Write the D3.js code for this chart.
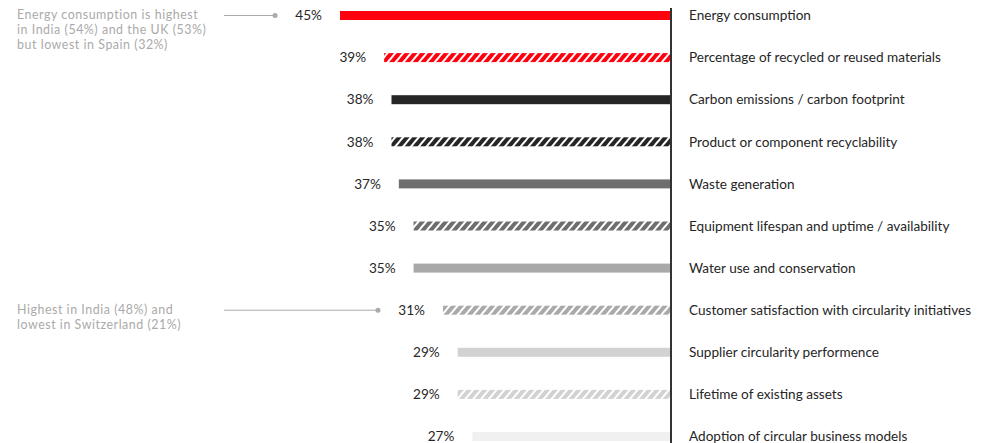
<!DOCTYPE html>
<html>
<head>
<meta charset="utf-8">
<script src="https://cdn.jsdelivr.net/npm/d3@7"></script>
<style>
  html, body { margin: 0; padding: 0; background: #fff; }
  svg text { font-family: Lato, "Noto Sans", sans-serif; }
</style>
</head>
<body>
<svg id="chart" width="994" height="443"></svg>
<script>
// Circularity metrics tracked, share of respondents (%)
const categories = [
  "Energy consumption",
  "Percentage of recycled or reused materials",
  "Carbon emissions / carbon footprint",
  "Product or component recyclability",
  "Waste generation",
  "Equipment lifespan and uptime / availability",
  "Water use and conservation",
  "Customer satisfaction with circularity initiatives",
  "Supplier circularity performence",
  "Lifetime of existing assets",
  "Adoption of circular business models"
];
const values = [45, 39, 38, 38, 37, 35, 35, 31, 29, 29, 27];
const colors = ["#ff000f", "#ff000f", "#262626", "#262626", "#6e6e6e", "#6e6e6e",
                "#a9a9a9", "#a9a9a9", "#d2d2d2", "#d2d2d2", "#f0f0f0"];
const hatched = [false, true, false, true, false, true, false, true, false, true, false];

// Callout notes attached to specific rows
const notes = [
  { row: 0, lines: ["Energy consumption is highest", "in India (54%) and the UK (53%)", "but lowest in Spain (32%)"] },
  { row: 7, lines: ["Highest in India (48%) and", "lowest in Switzerland (21%)"] }
];

const svg = d3.select("#chart");
const axisX = 671;
const fontSize = 13.6;

// Bars grow leftwards from the axis
const x = d3.scaleLinear().domain([0, 45]).range([axisX, 340]);
const y = d3.scalePoint().domain(d3.range(categories.length)).range([15.5, 436.5]);
const barH = 9;

// Diagonal stripe patterns for the hatched bars
const defs = svg.append("defs");
colors.forEach((c, i) => {
  if (!hatched[i]) return;
  const p = defs.append("pattern")
    .attr("id", "hatch" + i)
    .attr("patternUnits", "userSpaceOnUse")
    .attr("width", 6).attr("height", 6)
    .attr("patternTransform", "rotate(40)");
  p.append("rect").attr("width", 6).attr("height", 6).attr("fill", c);
  p.append("rect").attr("x", 0).attr("width", 2).attr("height", 6).attr("fill", "#fff");
});

const rows = svg.append("g").selectAll("g")
  .data(values.map((v, i) => ({ v, i })))
  .join("g");

rows.append("rect")
  .attr("x", d => x(d.v))
  .attr("y", d => y(d.i) - barH / 2)
  .attr("width", d => axisX - x(d.v))
  .attr("height", barH)
  .attr("fill", d => hatched[d.i] ? `url(#hatch${d.i})` : colors[d.i]);

rows.append("text")
  .attr("x", d => x(d.v) - 18)
  .attr("y", d => y(d.i))
  .attr("dy", "0.35em")
  .attr("text-anchor", "end")
  .attr("font-size", fontSize)
  .attr("fill", "#262626")
  .text(d => d.v + "%");

rows.append("text")
  .attr("x", axisX + 18)
  .attr("y", d => y(d.i))
  .attr("dy", "0.35em")
  .attr("font-size", fontSize)
  .attr("fill", "#262626")
  .text(d => categories[d.i]);

// Baseline axis
svg.append("line")
  .attr("x1", axisX).attr("x2", axisX)
  .attr("y1", 8).attr("y2", 443)
  .attr("stroke", "#333").attr("stroke-width", 2);

// Callouts
const noteG = svg.append("g").selectAll("g").data(notes).join("g");
noteG.append("line")
  .attr("x1", 224)
  .attr("x2", d => x(values[d.row]) - 65)
  .attr("y1", d => y(d.row)).attr("y2", d => y(d.row))
  .attr("stroke", "#aaa").attr("stroke-width", 1);
noteG.append("circle")
  .attr("cx", d => x(values[d.row]) - 65)
  .attr("cy", d => y(d.row))
  .attr("r", 2.5)
  .attr("fill", "#aaa");
noteG.append("text")
  .attr("x", 17)
  .attr("y", d => y(d.row) + 3.5)
  .attr("font-size", 12.4)
  .attr("letter-spacing", 0.55)
  .attr("fill", "#aaa")
  .selectAll("tspan")
  .data(d => d.lines)
  .join("tspan")
  .attr("x", 17)
  .attr("dy", (d, i) => i === 0 ? 0 : 15)
  .text(d => d);
</script>
</body>
</html>
